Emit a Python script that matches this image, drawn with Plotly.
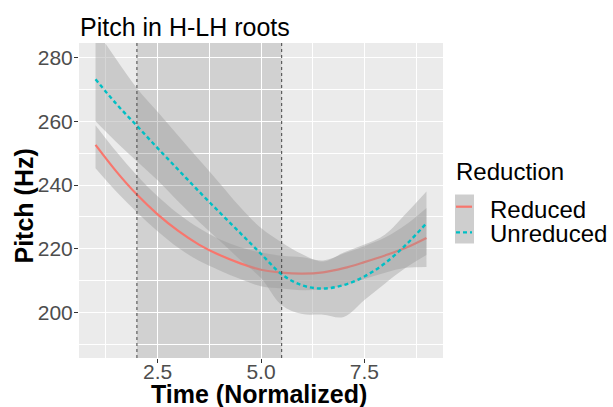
import plotly.graph_objects as go

# ---------------- data ----------------
time_x = [1, 1.5, 2, 2.5, 3, 3.5, 4, 4.5, 5, 5.5, 6, 6.5, 7, 7.5, 8, 8.5, 9]

reduced_fit = [252.6, 244.3, 237.0, 230.8, 225.6, 221.3, 218.0, 215.4, 213.4,
               212.5, 212.2, 212.6, 213.9, 215.8, 217.9, 220.3, 223.4]
reduced_upper = [258.8, 250.5, 243.0, 236.5, 231.0, 226.5, 223.0, 220.5, 218.8,
                 217.8, 217.3, 216.3, 218.5, 220.8, 223.5, 227.5, 232.8]
reduced_lower = [245.3, 238.0, 231.5, 225.5, 220.3, 216.2, 213.2, 210.5, 208.2,
                 207.5, 207.0, 207.3, 208.5, 210.5, 212.5, 214.0, 214.3]

unreduced_fit = [273.2, 265.5, 258.6, 251.6, 244.8, 238.0, 231.4, 224.9, 218.4,
                 212.0, 208.5, 207.5, 208.6, 211.3, 215.5, 221.2, 228.0]
unreduced_upper = [289.0, 279.5, 270.4, 263.0, 255.5, 248.0, 240.6, 233.0, 226.5,
                   222.0, 218.3, 216.0, 218.8, 221.3, 224.5, 231.0, 238.0]
unreduced_lower = [260.0, 253.5, 247.5, 241.5, 234.8, 228.5, 222.5, 216.5, 210.8,
                   202.3, 199.5, 199.3, 198.6, 203.9, 209.1, 214.0, 218.0]

region_bounds = [2, 5.5]          # shaded region (time)
series_names = ["Reduced", "Unreduced"]
series_colors = ["#F8766D", "#00BFC4"]

x_ticks = [2.5, 5.0, 7.5]
x_tick_labels = ["2.5", "5.0", "7.5"]
x_minor = [1.25, 3.75, 6.25, 8.75]
y_ticks = [200, 220, 240, 260, 280]
y_tick_labels = ["200", "220", "240", "260", "280"]
y_minor = [190, 210, 230, 250, 270]

x_range = [0.6, 9.4]
y_range = [185.7, 284.6]

# ---------------- figure ----------------
W, H = 613, 407
ML, MR, MT, MB = 79, 170, 43, 49
FONT = "Liberation Sans, Arial, sans-serif"
RIBBON = "rgba(153,153,153,0.4)"

fig = go.Figure()

series = [
    (series_names[0], series_colors[0], reduced_fit, reduced_lower, reduced_upper, "solid", 2.2),
    (series_names[1], series_colors[1], unreduced_fit, unreduced_lower, unreduced_upper, "4px,3px", 2.4),
]
for name, col, fit, lo, up, dash, lw in series:
    fig.add_trace(go.Scatter(x=time_x, y=lo, mode="lines", line=dict(width=0, shape="spline"),
                             showlegend=False, hoverinfo="skip"))
    fig.add_trace(go.Scatter(x=time_x, y=up, mode="lines", line=dict(width=0, shape="spline"),
                             fill="tonexty", fillcolor=RIBBON, showlegend=False, hoverinfo="skip"))
    fig.add_trace(go.Scatter(x=time_x, y=fit, mode="lines", name=name,
                             line=dict(color=col, width=lw, dash=dash, shape="spline"),
                             showlegend=False))

# shaded region and dotted boundaries
fig.add_shape(type="rect", xref="x", yref="paper", x0=region_bounds[0], x1=region_bounds[1],
              y0=0, y1=1, fillcolor="rgba(0,0,0,0.11)", line=dict(width=0), layer="between")
for b in region_bounds:
    fig.add_shape(type="line", xref="x", yref="paper", x0=b, x1=b, y0=0, y1=1,
                  line=dict(color="#444444", width=1, dash="dot"), layer="above")

# ---------------- pixel helpers ----------------
def px(xp):
    return (xp - ML) / (W - ML - MR)

def py(yp):
    return 1 - (yp - MT) / (H - MT - MB)

# axis titles
fig.add_annotation(text="<b>Time (Normalized)</b>", xref="paper", yref="paper",
                   x=px(259), y=py(394), xanchor="center", yanchor="middle", showarrow=False,
                   font=dict(size=25, color="black", family=FONT))
fig.add_annotation(text="<b>Pitch (Hz)</b>", xref="paper", yref="paper", textangle=-90,
                   x=px(23.5), y=py(206), xanchor="center", yanchor="middle", showarrow=False,
                   font=dict(size=25, color="black", family=FONT))

# ---------------- manual legend ----------------
fig.add_annotation(text="Reduction", xref="paper", yref="paper", x=px(454), y=py(171),
                   xanchor="left", yanchor="middle", showarrow=False,
                   font=dict(size=24, color="black", family=FONT))
fig.add_shape(type="rect", xref="paper", yref="paper", x0=px(455), x1=px(474),
              y0=py(194.5), y1=py(243.5), fillcolor="#CECECE", line=dict(width=0))
key_y = [206.7, 232.3]
label_y = [209, 233]
for i, (name, col) in enumerate(zip(series_names, series_colors)):
    fig.add_shape(type="line", xref="paper", yref="paper", x0=px(456), x1=px(472),
                  y0=py(key_y[i]), y1=py(key_y[i]),
                  line=dict(color=col, width=2.2, dash="solid" if i == 0 else "4px,3px"))
    fig.add_annotation(text=name, xref="paper", yref="paper", x=px(488), y=py(label_y[i]),
                       xanchor="left", yanchor="middle", showarrow=False,
                       font=dict(size=24, color="black", family=FONT))

fig.update_layout(
    width=W, height=H,
    margin=dict(l=ML, r=MR, t=MT, b=MB),
    paper_bgcolor="white", plot_bgcolor="#EBEBEB",
    font=dict(family=FONT),
    title=dict(text="Pitch in H-LH roots", x=80 / W, xanchor="left", y=1 - 27 / H,
               yanchor="middle", font=dict(size=25, color="black", family=FONT)),
    showlegend=False,
    xaxis=dict(range=x_range, tickvals=x_ticks, ticktext=x_tick_labels, automargin=False,
               ticks="outside", ticklen=4, tickwidth=1, tickcolor="#333333",
               ticklabelstandoff=-9,
               tickfont=dict(size=21, color="#4D4D4D", family=FONT),
               showgrid=True, gridcolor="white", gridwidth=1.1, zeroline=False, showline=False,
               minor=dict(tickvals=x_minor, showgrid=True, gridcolor="white", gridwidth=0.5)),
    yaxis=dict(range=y_range, tickvals=y_ticks, ticktext=y_tick_labels, automargin=False,
               ticks="outside", ticklen=4, tickwidth=1, tickcolor="#333333",
               ticklabelstandoff=-3,
               tickfont=dict(size=21, color="#4D4D4D", family=FONT),
               showgrid=True, gridcolor="white", gridwidth=1.1, zeroline=False, showline=False,
               minor=dict(tickvals=y_minor, showgrid=True, gridcolor="white", gridwidth=0.5)),
)

fig.write_html("out.html")
